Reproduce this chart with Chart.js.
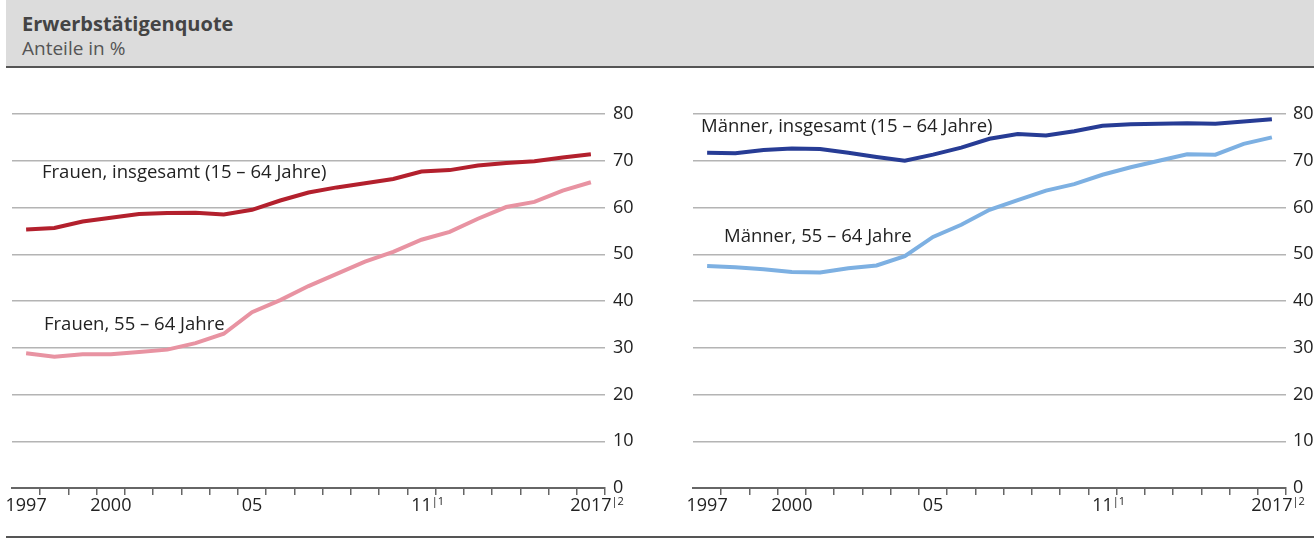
<!DOCTYPE html>
<html>
<head>
<meta charset="utf-8">
<script src="https://cdn.jsdelivr.net/npm/chart.js@4/dist/chart.umd.min.js"></script>
<style>
  body { margin: 0; width: 1314px; height: 539px; background: #fff; position: relative; overflow: hidden; font-family: "Open Sans", sans-serif; }
  .head { position: absolute; left: 6px; top: 0; width: 1308px; height: 66px; background: #dcdcdc; border-bottom: 2px solid #555; }
  .title { position: absolute; left: 16px; top: 10px; font-size: 20px; font-weight: bold; color: #444; }
  .sub { position: absolute; left: 16px; top: 35px; font-size: 19px; color: #555; }
  .foot { position: absolute; left: 6px; top: 536px; width: 1308px; height: 2px; background: #555; }
  .wrap { position: absolute; top: 90px; height: 438px; }
  .lbl { position: absolute; font-size: 18.5px; color: #222; white-space: nowrap; line-height: 22px; }
</style>
</head>
<body>
<div class="head"><div class="title">Erwerbstätigenquote</div><div class="sub">Anteile in %</div></div>
<div class="wrap" style="left:0;width:650px"><canvas id="left"></canvas></div>
<div class="wrap" style="left:678px;width:636px"><canvas id="right"></canvas></div>
<div class="lbl" style="left:42px;top:160px">Frauen, insgesamt (15 – 64 Jahre)</div>
<div class="lbl" style="left:44px;top:312px">Frauen, 55 – 64 Jahre</div>
<div class="lbl" style="left:701px;top:114px">Männer, insgesamt (15 – 64 Jahre)</div>
<div class="lbl" style="left:724px;top:224px">Männer, 55 – 64 Jahre</div>
<div class="foot"></div>
<script>
const years = ['1997', '1998', '1999', '2000', '2001', '2002', '2003', '2004', '2005', '2006', '2007',
               '2008', '2009', '2010', '2011', '2012', '2013', '2014', '2015', '2016', '2017'];

// Erwerbstätigenquote in %
const frauenGesamt = [55.3, 55.6, 57.0, 57.8, 58.6, 58.8, 58.9, 58.5, 59.5, 61.5, 63.2, 64.3, 65.2, 66.1, 67.7, 68.0, 69.0, 69.5, 69.9, 70.7, 71.4];
const frauen5564 = [28.8, 28.1, 28.6, 28.6, 29.1, 29.6, 31.0, 33.0, 37.6, 40.2, 43.2, 45.8, 48.4, 50.5, 53.1, 54.8, 57.6, 60.1, 61.2, 63.6, 65.4];
const maennerGesamt = [71.7, 71.6, 72.3, 72.6, 72.5, 71.7, 70.8, 70.0, 71.3, 72.8, 74.7, 75.7, 75.4, 76.3, 77.5, 77.8, 77.9, 78.0, 77.9, 78.4, 78.9];
const maenner5564 = [47.5, 47.2, 46.8, 46.2, 46.1, 47.0, 47.6, 49.6, 53.7, 56.3, 59.5, 61.6, 63.6, 65.0, 67.0, 68.6, 70.0, 71.4, 71.3, 73.6, 75.0];

// x-Achse: nur einige Jahre beschriften, Fußnoten hochgestellt
const xLabels = { '1997': '1997', '2000': '2000', '2005': '05', '2011': '11', '2017': '2017' };
const xNotes = { '2011': '|1', '2017': '|2' };
const yTicks = [0, 10, 20, 30, 40, 50, 60, 70, 80];

const tickFont = { family: 'Open Sans', size: 18 };

const notesPlugin = {
    id: 'notes',
    afterDraw(chart) {
        const xs = chart.scales.x;
        const c = chart.ctx;
        c.save();
        Object.keys(xNotes).forEach(year => {
            const idx = years.indexOf(year);
            const px = xs.getPixelForValue(idx);
            c.font = '18px "Open Sans"';
            const w = c.measureText(xLabels[year]).width;
            c.font = '11px "Open Sans"';
            c.fillStyle = '#222';
            c.textBaseline = 'top';
            c.textAlign = 'left';
            c.fillText(xNotes[year], px + w / 2, xs.top + 8);
        });
        c.restore();
    }
};

function makeChart(id, dataA, colorA, dataB, colorB, padLeft, axisWidth, tickPad) {
    const ctx = document.getElementById(id).getContext('2d');
    return new Chart(ctx, {
        type: 'line',
        data: {
            labels: years,
            datasets: [
                { data: dataA, borderColor: colorA, borderWidth: 4, pointRadius: 0, tension: 0 },
                { data: dataB, borderColor: colorB, borderWidth: 4, pointRadius: 0, tension: 0 }
            ]
        },
        options: {
            responsive: true,
            maintainAspectRatio: false,
            animation: false,
            layout: { padding: { top: 24, left: padLeft, right: 0, bottom: 0 } },
            plugins: { legend: { display: false }, tooltip: { enabled: false } },
            scales: {
                x: {
                    offset: true,
                    afterFit: s => { s.height = 40; s.paddingLeft = 0; s.paddingRight = 0; },
                    border: { display: true, color: '#666', width: 2 },
                    grid: {
                        offset: true,
                        drawOnChartArea: false,
                        tickLength: 7,
                        lineWidth: 1.5,
                        color: c => (c.index === 0 || c.index >= years.length) ? 'rgba(0,0,0,0)' : '#666'
                    },
                    ticks: {
                        autoSkip: false,
                        maxRotation: 0,
                        padding: 0,
                        color: '#222',
                        font: tickFont,
                        callback: (v, i) => xLabels[years[i]] || ''
                    }
                },
                y: {
                    position: 'right',
                    min: 0,
                    max: 80,
                    afterFit: s => { s.width = axisWidth; s.paddingTop = 0; s.paddingBottom = 0; },
                    afterBuildTicks: s => { s.ticks = yTicks.map(v => ({ value: v })); },
                    border: { display: false },
                    grid: {
                        drawTicks: false,
                        lineWidth: 1.5,
                        color: c => c.tick && c.tick.value === 0 ? 'rgba(0,0,0,0)' : '#b4b4b4'
                    },
                    ticks: { padding: tickPad, color: '#222', font: tickFont }
                }
            }
        },
        plugins: [notesPlugin]
    });
}

makeChart('left', frauenGesamt, '#b3202d', frauen5564, '#e893a2', 12, 45, 8);
makeChart('right', maennerGesamt, '#273c95', maenner5564, '#7db0e2', 15, 28, 7);
</script>
</body>
</html>
